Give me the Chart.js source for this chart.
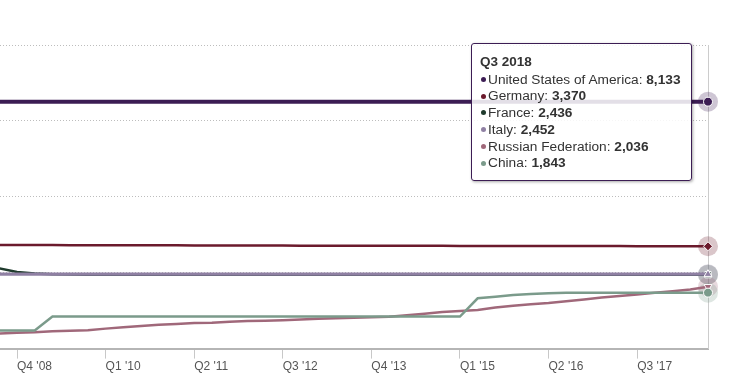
<!DOCTYPE html>
<html>
<head>
<meta charset="utf-8">
<script src="https://cdn.jsdelivr.net/npm/chart.js@4.4.0/dist/chart.umd.min.js"></script>
<style>
  body { margin: 0; background: #fff; }
  #wrap { position: relative; width: 729px; height: 384px; overflow: hidden; }
  #tip {
    position: absolute; display: none; box-sizing: border-box;
    width: 221px; padding: 9px 8px 8px 8px;
    background: rgba(255, 255, 255, 0.86);
    border: 1px solid #3c1d54; border-radius: 3px;
    box-shadow: 1px 1px 3px rgba(0, 0, 0, 0.35);
    font-family: "Liberation Sans", Arial, sans-serif; font-size: 13.7px; color: #333;
    white-space: nowrap;
  }
  #tip .hd { font-weight: bold; line-height: 18.5px; font-size: 13.5px; }
  #tip .row { line-height: 16.8px; }
  #tip .dot { display: inline-block; width: 5px; height: 5px; border-radius: 50%; margin: 0 2px 1px 1px; vertical-align: middle; }
  #tip b { font-weight: bold; }
</style>
</head>
<body>
<div id="wrap">
  <canvas id="myChart" width="729" height="384"></canvas>
  <div id="tip"></div>
</div>
<script>
// trimestres (catégories)
const quarters = [
  'Q2 2008', 'Q3 2008', 'Q4 2008',
  'Q1 2009', 'Q2 2009', 'Q3 2009', 'Q4 2009',
  'Q1 2010', 'Q2 2010', 'Q3 2010', 'Q4 2010',
  'Q1 2011', 'Q2 2011', 'Q3 2011', 'Q4 2011',
  'Q1 2012', 'Q2 2012', 'Q3 2012', 'Q4 2012',
  'Q1 2013', 'Q2 2013', 'Q3 2013', 'Q4 2013',
  'Q1 2014', 'Q2 2014', 'Q3 2014', 'Q4 2014',
  'Q1 2015', 'Q2 2015', 'Q3 2015', 'Q4 2015',
  'Q1 2016', 'Q2 2016', 'Q3 2016', 'Q4 2016',
  'Q1 2017', 'Q2 2017', 'Q3 2017', 'Q4 2017',
  'Q1 2018', 'Q2 2018', 'Q3 2018'
];

// graduations de l'axe x
const tickQuarters = ['Q4 2008', 'Q1 2010', 'Q2 2011', 'Q3 2012', 'Q4 2013', 'Q1 2015', 'Q2 2016', 'Q3 2017'];
const tickLabels = ["Q4 '08", "Q1 '10", "Q2 '11", "Q3 '12", "Q4 '13", "Q1 '15", "Q2 '16", "Q3 '17"];

// réserves d'or (tonnes)
const usa = [
  8133, 8133, 8133, 8133, 8133, 8133, 8133, 8133, 8133, 8133, 8133, 8133, 8133, 8133,
  8133, 8133, 8133, 8133, 8133, 8133, 8133, 8133, 8133, 8133, 8133, 8133, 8133, 8133,
  8133, 8133, 8133, 8133, 8133, 8133, 8133, 8133, 8133, 8133, 8133, 8133, 8133, 8133
];
const germany = [
  3417, 3415, 3413, 3412, 3410, 3408, 3407, 3406, 3404, 3403, 3401, 3401, 3399, 3398,
  3396, 3395, 3394, 3392, 3391, 3390, 3389, 3387, 3385, 3385, 3385, 3384, 3384, 3383,
  3383, 3382, 3381, 3381, 3380, 3379, 3378, 3377, 3376, 3375, 3374, 3372, 3371, 3370
];
const france = [
  2700, 2640, 2520, 2470, 2445, 2440, 2436, 2436, 2436, 2436, 2436, 2436, 2436, 2436,
  2436, 2436, 2436, 2436, 2436, 2436, 2436, 2436, 2436, 2436, 2436, 2436, 2436, 2436,
  2436, 2436, 2436, 2436, 2436, 2436, 2436, 2436, 2436, 2436, 2436, 2436, 2436, 2436
];
const italy = [
  2452, 2452, 2452, 2452, 2452, 2452, 2452, 2452, 2452, 2452, 2452, 2452, 2452, 2452,
  2452, 2452, 2452, 2452, 2452, 2452, 2452, 2452, 2452, 2452, 2452, 2452, 2452, 2452,
  2452, 2452, 2452, 2452, 2452, 2452, 2452, 2452, 2452, 2452, 2452, 2452, 2452, 2452
];
const russia = [
  470, 495, 519, 535, 568, 590, 608, 658, 700, 745, 784, 810, 841, 851,
  883, 911, 918, 936, 958, 981, 996, 1016, 1035, 1051, 1095, 1149, 1208, 1238,
  1275, 1352, 1415, 1460, 1501, 1561, 1615, 1680, 1729, 1779, 1839, 1890, 1944, 2036
];
const china = [
  600, 600, 600, 600, 1054, 1054, 1054, 1054, 1054, 1054, 1054, 1054, 1054, 1054,
  1054, 1054, 1054, 1054, 1054, 1054, 1054, 1054, 1054, 1054, 1054, 1054, 1054, 1054,
  1658, 1709, 1762, 1798, 1823, 1838, 1843, 1843, 1843, 1843, 1843, 1843, 1843, 1843
];

const pays = ['United States of America', 'Germany', 'France', 'Italy', 'Russian Federation', 'China'];
const valeurs = [usa, germany, france, italy, russia, china];
const couleurs = ['#3c1d54', '#6b1a2c', '#1f3b2d', '#8f80a3', '#a0687a', '#7b9b8b'];
const formes = ['circle', 'rectRot', 'rect', 'triangle', 'triangle', 'circle'];
const rotations = [0, 0, 0, 0, 180, 0];
const epaisseurs = [4, 2.5, 2.5, 3.2, 2.5, 2.5];

const dernier = quarters.length - 1;
const premiereGraduation = quarters.indexOf(tickQuarters[0]);

// halo autour des points survolés
const halos = {
  id: 'halos',
  beforeDatasetsDraw(chart) {
    const c = chart.ctx;
    chart.data.datasets.forEach(function (ds, i) {
      const pt = chart.getDatasetMeta(i).data[dernier];
      c.save();
      c.globalAlpha = 0.25;
      c.fillStyle = couleurs[i];
      c.beginPath();
      c.arc(pt.x, pt.y, 10, 0, 2 * Math.PI);
      c.fill();
      c.restore();
    });
  }
};

// infobulle HTML (valeurs en gras)
function infobulle(context) {
  const tooltip = context.tooltip;
  const tip = document.getElementById('tip');
  if (tooltip.opacity === 0) { tip.style.display = 'none'; return; }
  const points = tooltip.dataPoints.slice().sort(function (a, b) { return a.datasetIndex - b.datasetIndex; });
  let html = '<div class="hd">' + quarters[points[0].dataIndex] + '</div>';
  points.forEach(function (p) {
    html += '<div class="row"><span class="dot" style="background:' + couleurs[p.datasetIndex] + '"></span>' +
      p.dataset.label + ': <b>' + Math.round(p.parsed.y).toLocaleString('en-US') + '</b></div>';
  });
  tip.innerHTML = html;
  tip.style.display = 'block';
  tip.style.left = (tooltip.caretX - 237) + 'px';
  tip.style.top = (context.chart.chartArea.top - 2) + 'px';
}

const datasets = pays.map(function (nom, i) {
  return {
    label: nom,
    data: valeurs[i].map(function (v, k) { return { x: k, y: v }; }),
    borderColor: couleurs[i],
    backgroundColor: couleurs[i],
    borderWidth: epaisseurs[i],
    tension: 0,
    pointStyle: formes[i],
    rotation: rotations[i],
    pointRadius: function (ctx) { return ctx.dataIndex === dernier ? 4.5 : 0; },
    pointBorderColor: '#ffffff',
    pointBorderWidth: 1,
    pointBackgroundColor: couleurs[i],
    order: pays.length - i,
    clip: false
  };
});

const ctx = document.getElementById('myChart');

const chart = new Chart(ctx, {
  type: 'line',
  data: { datasets: datasets },
  plugins: [halos],
  options: {
    responsive: false,
    animation: false,
    events: [],
    layout: { padding: { top: 45, right: 21, bottom: 9, left: 0 }, autoPadding: false },
    plugins: {
      legend: { display: false },
      tooltip: { enabled: false, external: infobulle }
    },
    scales: {
      x: {
        type: 'linear',
        min: premiereGraduation - 0.96,
        max: dernier,
        afterBuildTicks: function (scale) {
          scale.ticks = tickQuarters.map(function (q) { return { value: quarters.indexOf(q) }; });
        },
        grid: { drawOnChartArea: false, drawTicks: true, tickLength: 10, color: '#c8c8c8' },
        border: { display: true, color: '#b5b5b5', width: 2 },
        ticks: {
          autoSkip: false,
          maxRotation: 0,
          align: 'start',
          padding: 1,
          color: '#555555',
          font: { family: '"Liberation Sans", Arial, sans-serif', size: 12 },
          callback: function (value, index) { return tickLabels[index]; }
        }
      },
      y: {
        position: 'right',
        min: 0,
        max: 10000,
        ticks: { display: false, stepSize: 2500 },
        grid: { color: '#bdbdbd', drawTicks: false, tickLength: 0 },
        border: { display: false, dash: [1, 2] }
      },
      bordDroit: {
        type: 'linear',
        position: 'right',
        display: true,
        min: 0,
        max: 10000,
        ticks: { display: false },
        grid: { display: false, drawTicks: false, tickLength: 0 },
        border: { display: true, color: '#cccccc', width: 1 }
      }
    }
  }
});

chart.tooltip.setActiveElements(
  pays.map(function (nom, i) { return { datasetIndex: i, index: dernier }; }),
  { x: 0, y: 0 }
);
</script>
</body>
</html>
